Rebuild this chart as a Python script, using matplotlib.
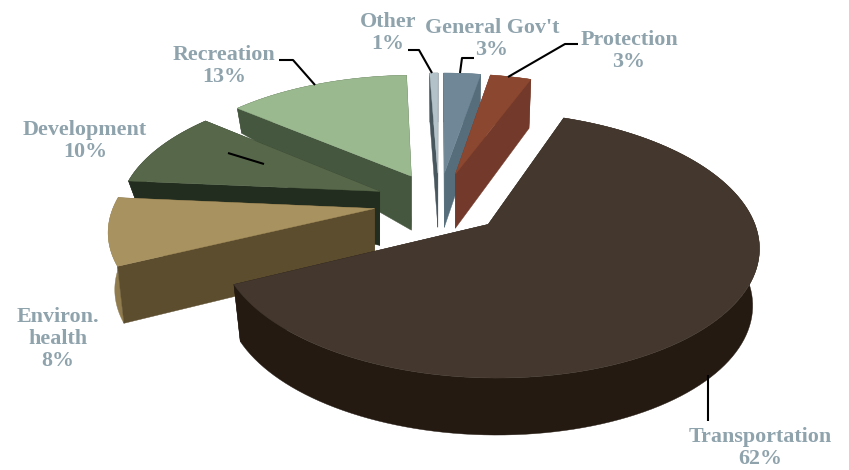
import numpy as np
import matplotlib
matplotlib.use("Agg")
import matplotlib.pyplot as plt
from matplotlib.patches import Polygon

# data, clockwise from 12 o'clock
names = ["General Gov't", "Protection", "Transportation", "Environ.\nhealth",
         "Development", "Recreation", "Other"]
percent_labels = [3, 3, 62, 8, 10, 13, 1]
slice_shares = [2.7, 3.0, 62.2, 8.5, 9.7, 13.3, 0.6]

# style
top_colors = ["#6f8796", "#8b4730", "#44382e", "#a8925f", "#57684a", "#9ab98f", "#b3c1c9"]
side_colors = ["#566e7c", "#73392a", "#241a12", "#5c4d2e", "#232d1f", "#46573f", "#48565e"]
outer_colors = ["#566e7c", "#7a3d2a", "#241a12", "#8f7b4d", "#232d1f", "#46573f", "#48565e"]
rim_depth = [49, 49, 57, 57, 17, 25, 49]
draw_order = [6, 0, 1, 5, 4, 3, 2]
label_xy = [(492, 18), (629, 30), (760, 427), (58, 307), (85, 120), (224, 45), (388, 12)]
leaders = [[(474, 58), (462, 58), (460, 73)],
           [(578, 44), (565, 44), (508, 77)],
           [(708, 375), (708, 421)],
           [],
           [(228, 153), (264, 164)],
           [(279, 60), (293, 60), (315, 85)],
           [(408, 50), (419, 50), (432, 73)]]

CX, CY, A, B, K = 439, 203, 260, 123.5, 0.15
EXPLODE, APEX_DEPTH, SHRINK = 0.25, 54, 0.975


def project(x, y):
    w = 1 + K * y
    return CX + A * x / w, CY - B * y / w


fig = plt.figure(figsize=(8.49, 4.70), dpi=100)
ax = fig.add_axes([0, 0, 1, 1])
ax.set_xlim(0, 849)
ax.set_ylim(470, 0)
ax.axis("off")

edges = np.cumsum([0] + slice_shares) / sum(slice_shares) * 2 * np.pi


def poly(pts, color, z):
    ax.add_patch(Polygon(pts, closed=True, facecolor=color, edgecolor=color, lw=0.3, zorder=z))


for z, i in enumerate(draw_order):
    t0, t1 = edges[i], edges[i + 1]
    mid = (t0 + t1) / 2
    ex, ey = EXPLODE * np.sin(mid), EXPLODE * np.cos(mid)
    th = np.linspace(t0, t1, 120)
    rx, ry = project(ex + np.sin(th), ey + np.cos(th))
    ax_, ay_ = project(ex, ey)
    d = rim_depth[i]
    bx = ax_ + (rx - ax_) * SHRINK
    by = ry + d
    base = z * 10
    outer = np.r_[np.c_[rx, ry], np.c_[bx, by][::-1]]
    poly(outer, outer_colors[i], base)
    for k in (0, -1):
        poly([(ax_, ay_), (rx[k], ry[k]), (bx[k], by[k]), (ax_, ay_ + APEX_DEPTH)],
             side_colors[i], base + 1)
    poly(np.r_[[(ax_, ay_)], np.c_[rx, ry]], top_colors[i], base + 2)

for i, name in enumerate(names):
    ax.text(label_xy[i][0], label_xy[i][1], f"{name}\n{percent_labels[i]}%", ha="center", va="top",
            family="Liberation Serif", weight="bold", fontsize=15.8, color="#8fa3ad",
            linespacing=1.145, zorder=200)
    if leaders[i]:
        xs, ys = zip(*leaders[i])
        ax.plot(xs, ys, color="black", lw=1.5, zorder=150, solid_capstyle="butt")

fig.savefig("out.png", dpi=100)
